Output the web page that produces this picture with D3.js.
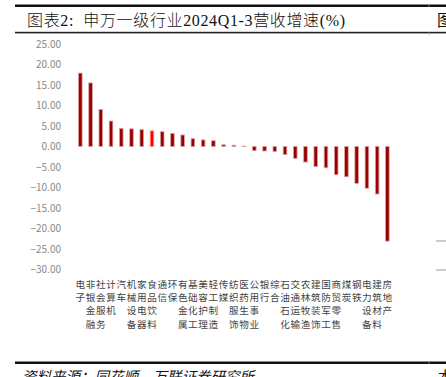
<!DOCTYPE html>
<html><head><meta charset="utf-8">
<script src="https://cdn.jsdelivr.net/npm/d3@7/dist/d3.min.js"></script>
<style>html,body{margin:0;padding:0;background:#fff;overflow:hidden}</style>
</head><body>
<script>
const categories = ["电子","非银金融","社会服务","计算机","汽车","机械设备","家用电器","食品饮料","通信","环保","有色金属","基础化工","美容护理","轻工制造","传媒","纺织服饰","医药生物","公用事业","银行","综合","石油石化","交通运输","农林牧渔","建筑装饰","国防军工","商贸零售","煤炭","钢铁","电力设备","建筑材料","房地产"];
const values = [17.9,15.5,9.0,6.2,4.4,4.3,4.1,3.8,3.6,3.2,2.8,1.9,1.6,1.4,0.4,0.3,0.1,-1.0,-1.1,-1.2,-2.0,-2.9,-3.8,-4.9,-5.2,-6.9,-7.4,-9.0,-10.2,-11.6,-23.1];
const highlight = ["食品饮料"];
const yTicks = [25,20,15,10,5,0,-5,-10,-15,-20,-25,-30];
const titleText = "图表2:  申万一级行业2024Q1-3营收增速(%)";
const sourceText = "资料来源：同花顺，万联证券研究所";

const W = 446, H = 377;
const svg = d3.select("body").append("svg").attr("width", W).attr("height", H);
const serif = "'Liberation Serif','Noto Sans CJK SC',serif";
const cjk = "'Noto Sans CJK SC',sans-serif";

// frame lines
svg.append("rect").attr("x",15).attr("y",4.5).attr("width",W-15).attr("height",2.5).attr("fill","#111");
svg.append("rect").attr("x",15).attr("y",31.8).attr("width",W-15).attr("height",1.6).attr("fill","#222");
svg.append("rect").attr("x",15).attr("y",361.5).attr("width",W-15).attr("height",2.5).attr("fill","#111");
[4.5,31.8,361.5].forEach(y=>svg.append("rect").attr("x",428.5).attr("y",y).attr("width",0.8).attr("height",2.5).attr("fill","#888"));

svg.append("text").attr("x",27).attr("y",26).attr("font-family",serif).attr("font-size",16)
  .attr("font-weight",300).attr("textLength",318).attr("lengthAdjust","spacing")
  .attr("fill","#111").attr("xml:space","preserve").style("white-space","pre").text(titleText);
svg.append("text").attr("x",437).attr("y",26).attr("font-family",serif).attr("font-size",16).attr("fill","#111").text("图");

const x = d3.scaleBand().domain(categories).range([75.2, 392.5]).paddingInner(0.65).paddingOuter(0.325);
const y = d3.scaleLinear().domain([-30,25]).range([269.4,44]);

// y axis labels
const ax = svg.append("g").attr("transform","translate(61,0)")
  .call(d3.axisLeft(y).tickValues(yTicks).tickSize(0).tickPadding(0).tickFormat(d3.format(".2f")));
ax.select(".domain").remove();
ax.selectAll("text").attr("font-family",cjk).attr("font-size",10).attr("fill","#888");

// bars
svg.append("g").selectAll("rect").data(categories).join("rect")
  .attr("x", d=>x(d))
  .attr("width", x.bandwidth())
  .attr("y", (d,i)=>y(Math.max(0,values[i])))
  .attr("height", (d,i)=>Math.abs(y(values[i])-y(0)))
  .attr("fill", d=>highlight.includes(d)?"#ff0000":"#990000")
  .attr("stroke", d=>highlight.includes(d)?"#ff9a9a":"#dba0a0")
  .attr("stroke-width",0.8);

// category labels stacked vertically
const rowY = [288, 301.2, 314.4, 327.6];
const lab = svg.append("g");
categories.forEach(c=>{
  const cx = x(c)+x.bandwidth()/2;
  Array.from(c).forEach((ch,k)=>{
    lab.append("text").attr("x",cx).attr("y",rowY[k]).attr("text-anchor","middle")
      .attr("font-family",cjk).attr("font-size",9.6).attr("fill","#444").text(ch);
  });
});

// neighbour chart fragments on right edge
[241,270].forEach(v=>svg.append("line").attr("x1",436).attr("x2",446).attr("y1",v).attr("y2",v).attr("stroke","#999").attr("stroke-width",1));

svg.append("text").attr("x",22).attr("y",382).attr("font-family",cjk).attr("font-size",14.5)
  .attr("font-style","italic").attr("fill","#111").text(sourceText);
svg.append("text").attr("x",438).attr("y",382).attr("font-family",cjk).attr("font-size",14.5).attr("fill","#111").text("本");
</script>
</body></html>
